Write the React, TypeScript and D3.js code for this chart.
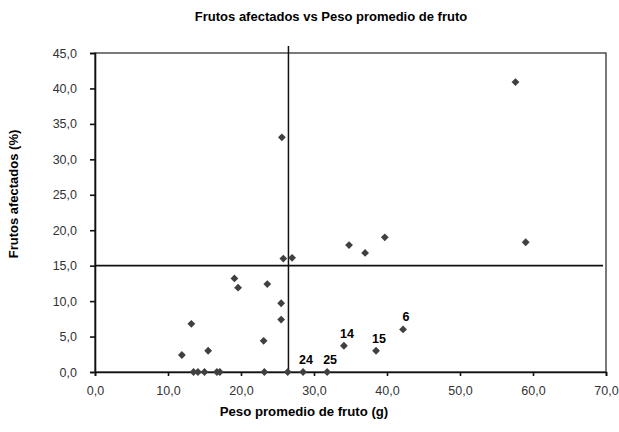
import React, { useEffect, useRef } from 'react'
import * as d3 from 'd3'

// peso promedio de fruto (g) y frutos afectados (%) por muestra
const pesoPromedio = [
  11.9, 13.2, 13.5, 14.1, 15.0, 15.5, 16.7, 17.1, 19.1, 19.6,
  23.1, 23.2, 23.6, 25.5, 25.5, 25.6, 25.8, 26.4, 27.0, 28.5,
  31.8, 34.1, 34.8, 37.0, 38.5, 39.7, 42.2, 57.6, 59.0,
]
const frutosAfectados = [
  2.4, 6.8, 0, 0, 0, 3.0, 0, 0, 13.2, 11.9,
  4.4, 0, 12.4, 9.7, 7.4, 33.1, 16.0, 0, 16.1, 0,
  0, 3.7, 17.9, 16.8, 3.0, 19.0, 6.0, 40.9, 18.3,
]
const etiquetas = [
  '', '', '', '', '', '', '', '', '', '',
  '', '', '', '', '', '', '', '', '', '24',
  '25', '14', '', '', '15', '', '6', '', '',
]
const xTicks = [0, 10, 20, 30, 40, 50, 60, 70]
const yTicks = [0, 5, 10, 15, 20, 25, 30, 35, 40, 45]
const lineaX = 26.5
const lineaY = 15

const width = 619
const height = 432
const margin = { top: 53, right: 13, bottom: 60, left: 95 }

export default function App() {
  const ref = useRef<SVGSVGElement>(null)

  useEffect(() => {
    const svg = d3.select(ref.current)
    svg.selectAll('*').remove()
    const font = 'Arial, "Liberation Sans", sans-serif'

    const x = d3.scaleLinear().domain([0, 70]).range([margin.left, width - margin.right])
    const y = d3.scaleLinear().domain([0, 45]).range([height - margin.bottom, margin.top])
    const fmt = d3.formatLocale({ decimal: ',', thousands: '.', grouping: [3], currency: ['', ''] }).format('.1f')

    svg.append('rect')
      .attr('width', width).attr('height', height).attr('fill', '#fff')

    // marco del grafico
    svg.append('rect')
      .attr('x', x(0)).attr('y', y(45))
      .attr('width', x(70) - x(0)).attr('height', y(0) - y(45))
      .attr('fill', 'none').attr('stroke', '#333').attr('stroke-width', 1.3)

    const gx = svg.append('g')
      .attr('transform', 'translate(0,' + y(0) + ')')
      .call(d3.axisBottom(x).tickValues(xTicks).tickFormat(d => fmt(+d)).tickSize(4).tickPadding(10))
    const gy = svg.append('g')
      .attr('transform', 'translate(' + x(0) + ',0)')
      .call(d3.axisLeft(y).tickValues(yTicks).tickFormat(d => fmt(+d)).tickSize(5).tickPadding(13))
    ;[gx, gy].forEach(g => {
      g.select('.domain').attr('stroke', '#111').attr('stroke-width', 1.6)
      g.selectAll('.tick line').attr('stroke', '#111').attr('stroke-width', 1.6)
      g.selectAll('.tick text').attr('fill', '#333').style('font-family', font).style('font-size', '12.5px')
    })

    // lineas de referencia
    svg.append('line')
      .attr('x1', x(lineaX)).attr('x2', x(lineaX))
      .attr('y1', y(0)).attr('y2', y(45) - 7)
      .attr('stroke', '#111').attr('stroke-width', 1.5)
    svg.append('line')
      .attr('x1', x(0)).attr('x2', x(70) - 3)
      .attr('y1', y(lineaY)).attr('y2', y(lineaY))
      .attr('stroke', '#111').attr('stroke-width', 1.8)

    const puntos = pesoPromedio.map((p, i) => ({ p, f: frutosAfectados[i], e: etiquetas[i] }))
    const r = 3.9
    svg.append('g').selectAll('path')
      .data(puntos)
      .enter().append('path')
      .attr('d', `M0,${-r}L${r},0L0,${r}L${-r},0Z`)
      .attr('transform', d => 'translate(' + x(d.p) + ',' + y(d.f) + ')')
      .attr('fill', '#404040')

    svg.append('g').selectAll('text')
      .data(puntos.filter(d => d.e !== ''))
      .enter().append('text')
      .attr('x', d => x(d.p) + 3)
      .attr('y', d => y(d.f) - 8)
      .attr('text-anchor', 'middle')
      .style('font-family', font).style('font-size', '12.5px').style('font-weight', 'bold')
      .text(d => d.e)

    svg.append('text')
      .attr('x', 331).attr('y', 21)
      .attr('text-anchor', 'middle')
      .style('font-family', font).style('font-size', '13px').style('font-weight', 'bold')
      .text('Frutos afectados vs Peso promedio de fruto')

    svg.append('text')
      .attr('x', 304).attr('y', 416)
      .attr('text-anchor', 'middle')
      .style('font-family', font).style('font-size', '13.2px').style('font-weight', 'bold')
      .text('Peso promedio de fruto (g)')

    svg.append('text')
      .attr('transform', 'translate(18,' + 194 + ') rotate(-90)')
      .attr('text-anchor', 'middle')
      .style('font-family', font).style('font-size', '13px').style('font-weight', 'bold')
      .text('Frutos afectados (%)')
  }, [])

  return (
    <svg ref={ref} width={width} height={height}
      style={{ position: 'absolute', left: 0, top: 0, display: 'block' }} />
  )
}
